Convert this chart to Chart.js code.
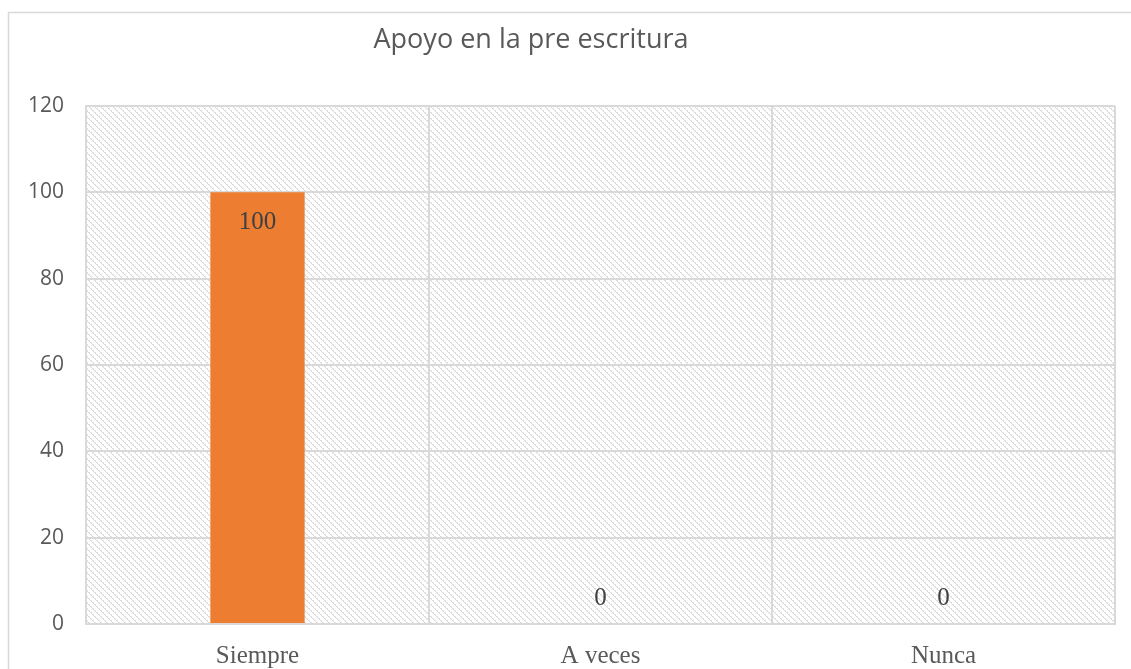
<!DOCTYPE html>
<html>
<head>
<meta charset="utf-8">
<script src="https://cdn.jsdelivr.net/npm/chart.js@4/dist/chart.umd.min.js"></script>
<style>
    html, body { margin: 0; padding: 0; background: #ffffff; }
    #wrap { width: 1131px; height: 669px; position: relative; }
</style>
</head>
<body>
<div id="wrap"><canvas id="chart" width="1131" height="669"></canvas></div>
<script>
const chartTitle = "Apoyo en la pre escritura";
const categories = ["Siempre", "A veces", "Nunca"];
const values = [100, 0, 0];
const yTicks = [0, 20, 40, 60, 80, 100, 120];

function makeHatch() {
    const tile = document.createElement("canvas");
    tile.width = 6;
    tile.height = 6;
    const ctx = tile.getContext("2d");
    ctx.fillStyle = "#ffffff";
    ctx.fillRect(0, 0, 6, 6);
    for (let i = 0; i < 6; i++) {
        ctx.fillStyle = "#d8d8d8";
        ctx.fillRect(i, i, 1, 1);
        ctx.fillStyle = i % 2 === 0 ? "#e6e6e6" : "#ffffff";
        ctx.fillRect((i + 1) % 6, i, 1, 1);
    }
    return ctx.createPattern(tile, "repeat");
}

const framePlugin = {
    id: "frame",
    beforeDraw(chart) {
        const { ctx, chartArea } = chart;
        ctx.save();
        ctx.fillStyle = makeHatch();
        ctx.fillRect(chartArea.left, chartArea.top, chartArea.right - chartArea.left, chartArea.bottom - chartArea.top);
        ctx.strokeStyle = "#d9d9d9";
        ctx.lineWidth = 1.5;
        ctx.beginPath();
        ctx.moveTo(8.5, 669);
        ctx.lineTo(8.5, 12.5);
        ctx.lineTo(1131, 12.5);
        ctx.stroke();
        ctx.fillStyle = "#595959";
        ctx.font = "27px 'Open Sans', sans-serif";
        ctx.textAlign = "center";
        ctx.textBaseline = "middle";
        ctx.fillText(chartTitle, 531, 40);
        ctx.restore();
    },
    afterDatasetsDraw(chart) {
        const { ctx } = chart;
        const meta = chart.getDatasetMeta(0);
        ctx.save();
        ctx.fillStyle = "#404040";
        ctx.font = "25px 'Liberation Serif', serif";
        ctx.textAlign = "center";
        ctx.textBaseline = "middle";
        meta.data.forEach((bar, i) => {
            const v = values[i];
            const y = v > 0 ? bar.y + 30 : bar.y - 26;
            ctx.fillText(String(v), bar.x, y);
        });
        ctx.restore();
    }
};

new Chart(document.getElementById("chart"), {
    type: "bar",
    data: {
        labels: categories,
        datasets: [
            {
                data: values,
                backgroundColor: "#ed7d31",
                categoryPercentage: 0.55,
                barPercentage: 0.5
            }
        ]
    },
    options: {
        responsive: false,
        animation: false,
        layout: { padding: { top: 106, right: 16, bottom: 0, left: 0 } },
        plugins: {
            legend: { display: false },
            tooltip: { enabled: false }
        },
        scales: {
            x: {
                afterFit: (scale) => {
                    scale.height = 45;
                },
                grid: { color: "#d9d9d9", lineWidth: 2, drawTicks: false },
                border: { color: "#d9d9d9", width: 2 },
                ticks: {
                    color: "#595959",
                    font: { family: "'Liberation Serif', serif", size: 25 },
                    padding: 17
                }
            },
            y: {
                min: 0,
                max: 120,
                afterBuildTicks: (scale) => {
                    scale.ticks = yTicks.map((v) => ({ value: v }));
                },
                afterFit: (scale) => {
                    scale.width = 86;
                },
                grid: { color: "#d9d9d9", lineWidth: 2, drawTicks: false },
                border: { color: "#d9d9d9", width: 2 },
                ticks: {
                    color: "#595959",
                    font: { family: "'Open Sans', sans-serif", size: 21 },
                    padding: 22
                }
            }
        }
    },
    plugins: [framePlugin]
});
</script>
</body>
</html>
